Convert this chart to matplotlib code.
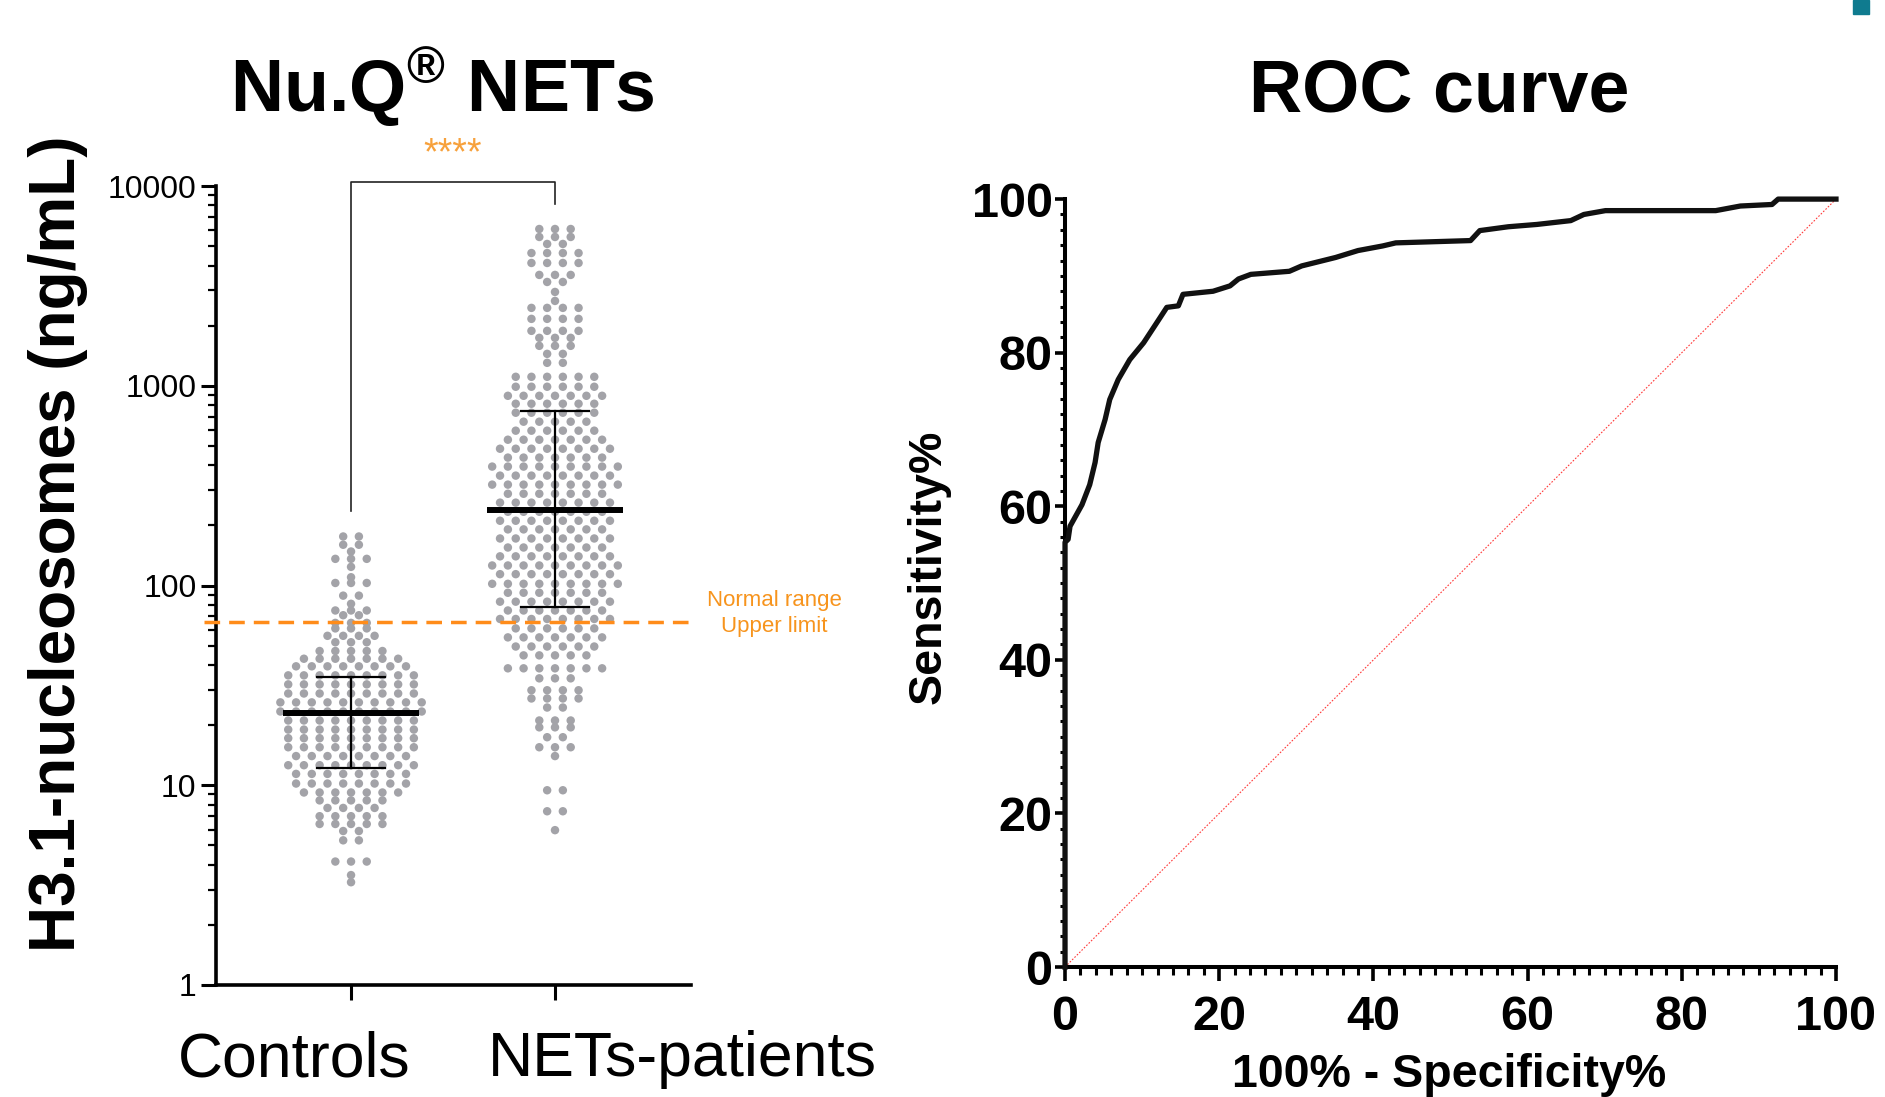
import matplotlib
matplotlib.use('Agg')
import matplotlib.pyplot as plt
from matplotlib.patches import Rectangle
from matplotlib.ticker import LogLocator, NullFormatter, MultipleLocator

plt.rcParams['font.family'] = ['Liberation Sans', 'DejaVu Sans']
plt.rcParams['mathtext.fontset'] = 'custom'
plt.rcParams['mathtext.rm'] = 'Liberation Sans:bold'
plt.rcParams['mathtext.it'] = 'Liberation Sans:bold'
plt.rcParams['mathtext.bf'] = 'Liberation Sans:bold'

# scatter rows: (value ng/mL, dots in that row)
controls_rows = [(176, 2), (160, 2), (148, 1), (136, 3), (124, 1), (110, 1), (103, 3),
                 (89, 2), (81, 1), (75, 3), (71, 2), (65, 3), (61, 3), (56, 4), (52, 3),
                 (47, 5), (43, 7), (39.4, 8), (35.5, 9), (32, 9), (28.8, 9), (26, 10),
                 (23.4, 10), (21.1, 9), (19, 9), (17.2, 9), (15.5, 9), (14, 8), (12.6, 9),
                 (11.4, 8), (10.2, 8), (9.2, 7), (8.4, 5), (7.7, 4), (7.0, 5), (6.4, 5),
                 (5.9, 2), (5.3, 2), (4.15, 3), (3.55, 1), (3.27, 1)]
nets_rows = [(6095, 3), (5560, 3), (5130, 2), (4620, 4), (4120, 4), (3590, 3), (3310, 2),
             (2950, 1), (2660, 1), (2455, 4), (2163, 4), (1884, 4), (1738, 3), (1585, 3),
             (1445, 2), (1303, 2), (1109, 6), (989, 6), (891, 7), (813, 6), (733, 6),
             (661, 5), (596, 6), (537, 7), (484, 8), (437, 7), (394, 9), (355, 8), (320, 9),
             (288, 7), (260, 8), (234, 7), (211, 8), (191, 7), (172, 8), (155, 7), (140, 8),
             (126, 9), (114, 8), (102, 9), (92, 7), (83, 8), (75, 7), (68, 8), (61, 6),
             (55, 7), (49.5, 6), (44.7, 5), (38.5, 7), (34.3, 3), (29.9, 4), (27.2, 4),
             (24.5, 2), (21.1, 3), (19.5, 3), (17.4, 2), (15.5, 3), (14.0, 1), (9.44, 2),
             (7.41, 2), (5.96, 1)]

groups = ['Controls', 'NETs-patients']
medians = [22.9, 240]
q1 = [12.2, 78]
q3 = [34.7, 750]
upper_limit = 65.9

roc_fpr = [0, 0, 0.4, 0.65, 2.2, 3.2, 3.9, 4.3, 5.2, 5.8, 6.9, 8.4, 10.2, 11.9, 13.2, 14.7,
           15.3, 19.2, 21.4, 22.5, 24.1, 29.1, 30.7, 35.1, 38.0, 41.2, 42.9, 52.6, 53.8,
           57.5, 61.2, 65.6, 67.3, 70.1, 84.4, 87.6, 91.7, 92.5, 100]
roc_tpr = [0, 55.3, 55.7, 57.4, 60.2, 62.8, 65.7, 68.3, 71.3, 73.9, 76.5, 79.1, 81.3, 83.9,
           85.9, 86.1, 87.6, 88.0, 88.7, 89.6, 90.2, 90.6, 91.3, 92.4, 93.3, 93.9, 94.3,
           94.6, 95.9, 96.4, 96.7, 97.2, 98.0, 98.5, 98.5, 99.1, 99.3, 100, 100]

orange = '#ff8c1a'


def swarm(rows, center, step):
    xs, ys = [], []
    for val, n in rows:
        for i in range(n):
            xs.append(center + (i - (n - 1) / 2) * step)
            ys.append(val)
    return xs, ys


fig = plt.figure(figsize=(18.85, 10.97), dpi=100)

# ---- left: dot plot
ax = fig.add_axes([0.1146, 0.1021, 0.252, 0.7283])
step = 0.077
for k, rows in enumerate([controls_rows, nets_rows]):
    xs, ys = swarm(rows, k, step)
    ax.scatter(xs, ys, s=37, color='#a3a3a8', edgecolors='none', zorder=2)
    ax.plot([k - 0.333, k + 0.333], [medians[k]] * 2, color='black', lw=4.3, zorder=4,
            solid_capstyle='butt')
    ax.plot([k, k], [q1[k], q3[k]], color='black', lw=1.6, zorder=4)
    for q in (q1[k], q3[k]):
        ax.plot([k - 0.165, k + 0.165], [q, q], color='black', lw=1.6, zorder=4)

ax.axhline(upper_limit, xmin=-0.025, xmax=1.0, color=orange, lw=2.5, dashes=(4.5, 2.6),
           zorder=5, clip_on=False)
ax.plot([0, 0, 1, 1], [236, 10420, 10420, 8130], color='#222222', lw=1.2, zorder=3,
        clip_on=False)
ax.text(0.5, 14500, '****', color='#f7a13c', fontsize=27, ha='center', va='center')

ax.set_yscale('log')
ax.set_ylim(1, 10000)
ax.set_xlim(-0.662, 1.667)
ax.set_yticks([1, 10, 100, 1000, 10000])
ax.set_yticklabels(['1', '10', '100', '1000', '10000'])
ax.yaxis.set_minor_locator(LogLocator(base=10, subs=range(2, 10)))
ax.yaxis.set_minor_formatter(NullFormatter())
ax.set_xticks([0, 1])
ax.set_xticklabels(['', ''])
ax.tick_params(axis='y', which='major', length=11, width=2.2, labelsize=23, pad=3)
ax.tick_params(axis='y', which='minor', length=6, width=1.6)
ax.tick_params(axis='x', which='major', length=11, width=2.2)
for s in ['top', 'right']:
    ax.spines[s].set_visible(False)
for s in ['left', 'bottom']:
    ax.spines[s].set_linewidth(2.6)

fig.text(0.156, 0.0191, groups[0], fontsize=45, ha='center', va='baseline')
fig.text(0.3618, 0.0191, groups[1], fontsize=45, ha='center', va='baseline')
fig.text(0.4106, 0.4410, 'Normal range\nUpper limit', color='#f7941d', fontsize=16,
         ha='center', va='center', linespacing=1.3)
fig.text(0.0308, 0.504, 'H3.1-nucleosomes (ng/mL)', rotation=90, fontsize=46,
         fontweight='bold', ha='center', va='center')
fig.text(0.2345, 0.898, r'Nu.Q$^{®}$ NETs', fontsize=53, fontweight='bold',
         ha='center', va='baseline')

# ---- right: ROC curve
ax2 = fig.add_axes([0.565, 0.1185, 0.409, 0.700])
ax2.plot([0, 100], [0, 100], color='#ff3b3b', lw=0.8, linestyle=(0, (1.5, 1.5)), zorder=2)
ax2.plot(roc_fpr, roc_tpr, color='#111111', lw=3.8, zorder=3, clip_on=False,
         solid_joinstyle='round')
ax2.set_xlim(0, 100)
ax2.set_ylim(0, 100)
ax2.xaxis.set_major_locator(MultipleLocator(20))
ax2.yaxis.set_major_locator(MultipleLocator(20))
ax2.xaxis.set_minor_locator(MultipleLocator(2))
ax2.yaxis.set_minor_locator(MultipleLocator(2))
ax2.tick_params(axis='x', which='major', length=10, width=2.6, labelsize=35, pad=10)
ax2.tick_params(axis='x', which='minor', length=5.5, width=2.2)
ax2.tick_params(axis='y', which='major', length=7, width=2.6, labelsize=35, pad=2)
ax2.tick_params(axis='y', which='minor', length=3.6, width=2.2)
for lab in ax2.get_xticklabels() + ax2.get_yticklabels():
    lab.set_fontweight('bold')
for s in ['top', 'right']:
    ax2.spines[s].set_visible(False)
for s in ['left', 'bottom']:
    ax2.spines[s].set_linewidth(2.9)

fig.text(0.4928, 0.4831, 'Sensitivity%', rotation=90, fontsize=33.5, fontweight='bold',
         ha='center', va='center')
fig.text(0.7687, 0.0095, '100% - Specificity%', fontsize=33.5, fontweight='bold',
         ha='center', va='baseline')
fig.text(0.7634, 0.898, 'ROC curve', fontsize=53, fontweight='bold', ha='center',
         va='baseline')

fig.add_artist(Rectangle((1853 / 1885, 1 - 14 / 1097), 16 / 1885, 14 / 1097,
                         transform=fig.transFigure, color='#0f7b8f'))

fig.savefig('out.png', dpi=100)
